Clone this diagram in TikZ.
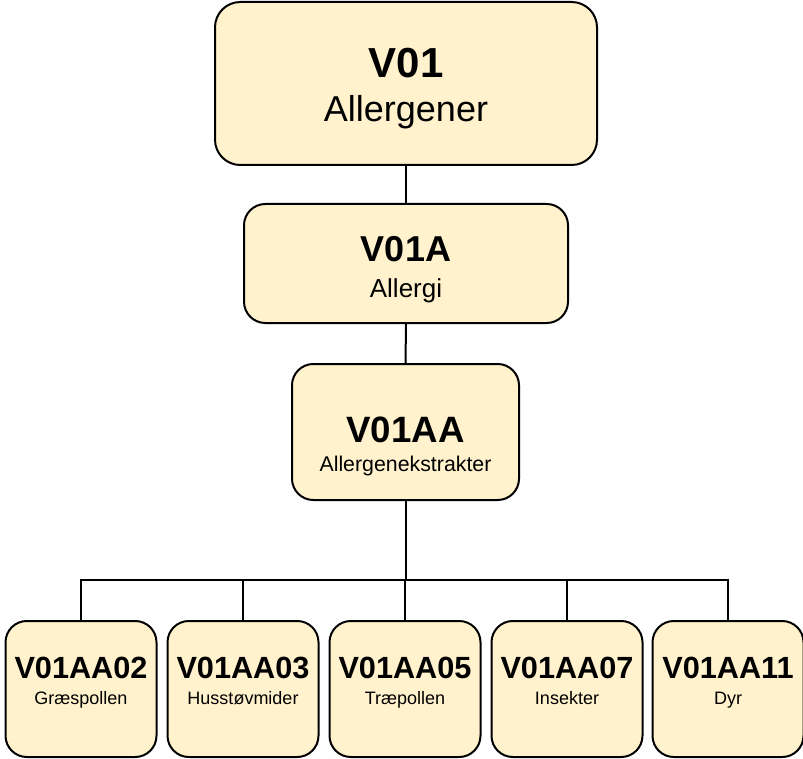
\documentclass[tikz,border=0pt]{standalone}
\usepackage{fontspec}
\setmainfont{Liberation Sans}
\definecolor{boxfill}{HTML}{FFF2CC}
\begin{document}
\begin{tikzpicture}[x=0.75pt,y=-0.75pt,
  box/.style={draw=black, line width=1.5pt, fill=boxfill, rounded corners=16pt, inner sep=0pt},
  conn/.style={draw=black, line width=1.5pt},
  lbl/.style={anchor=base, inner sep=0pt}]
\useasboundingbox (0,0) rectangle (803,759);

% level 1
\node[box, minimum width=286.5pt, minimum height=122.25pt, rounded corners=19pt] (n1) at (406,83.5) {};
\node[lbl, font=\fontsize{31.5pt}{36pt}\selectfont\bfseries] (n1code) at (406,78) {V01};
\node[lbl, font=\fontsize{27pt}{32pt}\selectfont] (n1name) at (406,122) {Allergener};

% level 2
\node[box, minimum width=243pt, minimum height=89.25pt] (n2) at (406,263.5) {};
\node[lbl, font=\fontsize{27pt}{32pt}\selectfont\bfseries] (n2code) at (406,262) {V01A};
\node[lbl, font=\fontsize{19.5pt}{24pt}\selectfont] (n2name) at (406,297) {Allergi};

% level 3
\node[box, minimum width=170.25pt, minimum height=102pt] (n3) at (405.5,432) {};
\node[lbl, font=\fontsize{27.5pt}{32pt}\selectfont\bfseries] (n3code) at (405.5,442) {V01AA};
\node[lbl, font=\fontsize{16pt}{20pt}\selectfont] (n3name) at (405.5,471) {Allergenekstrakter};

% level 4
\foreach \i/\x/\code/\name in {1/81/V01AA02/Græspollen, 2/243/V01AA03/Husstøvmider,
    3/405/V01AA05/Træpollen, 4/567/V01AA07/Insekter, 5/728/V01AA11/Dyr}{
  \node[box, minimum width=113.25pt, minimum height=102pt] (b\i) at (\x,689) {};
  \node[lbl, font=\fontsize{23pt}{28pt}\selectfont\bfseries] (b\i code) at (\x,678) {\code};
  \node[lbl, font=\fontsize{13.5pt}{16pt}\selectfont] (b\i name) at (\x,704) {\name};
}

% connectors
\coordinate (bus) at (405,580);
\draw[conn] (n1.south) -- (n2.north);
\draw[conn] (n2.south) -- (n3.north);
\draw[conn] (n3.south) -- (n3.south |- bus);
\draw[conn, line cap=rect] (b1.north |- bus) -- (b5.north |- bus);
\foreach \i in {1,...,5}{
  \draw[conn] (b\i.north) -- (b\i.north |- bus);
}
\end{tikzpicture}
\end{document}
